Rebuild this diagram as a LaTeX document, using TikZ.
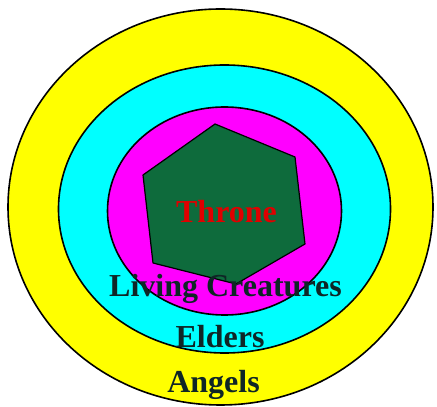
\documentclass[tikz,border=0pt]{standalone}
\usepackage{fontspec}
\setmainfont{Liberation Serif}
\definecolor{ring1}{HTML}{FFFF00}
\definecolor{ring2}{HTML}{00FFFF}
\definecolor{ring3}{HTML}{FF00FF}
\definecolor{throneg}{HTML}{0E6B3C}
\definecolor{thronered}{HTML}{E00000}
\definecolor{darktext}{HTML}{0F2626}
\begin{document}
\begin{tikzpicture}[x=1pt,y=1pt,
  ring/.style={draw=black,line width=1.6pt},
  lbl/.style={anchor=base,inner sep=0pt,font=\fontsize{32}{36}\selectfont\bfseries,text=darktext}]
\useasboundingbox (0,0) rectangle (437,407);
\fill[white] (0,0) rectangle (437,407);
% outer (Angels)
\filldraw[ring,fill=ring1] (220.5,200) ellipse [x radius=212.5, y radius=198];
% Elders
\filldraw[ring,fill=ring2] (224.5,198) ellipse [x radius=166, y radius=144];
% Living Creatures
\filldraw[ring,fill=ring3] (224.5,196) ellipse [x radius=117, y radius=104];
% Throne hexagon
\filldraw[draw=black,line width=1.2pt,fill=throneg,line join=round]
  (215,283) -- (295,250) -- (305,163) -- (236,123) -- (153,144) -- (143,232) -- cycle;
% labels
\node[lbl,text=thronered] (throne) at (226.5,184) {Throne};
\node[lbl] (living) at (225.5,110) {Living Creatures};
\node[lbl] (elders) at (220,59) {Elders};
\node[lbl] (angels) at (213.5,14.5) {Angels};
\end{tikzpicture}
\end{document}
